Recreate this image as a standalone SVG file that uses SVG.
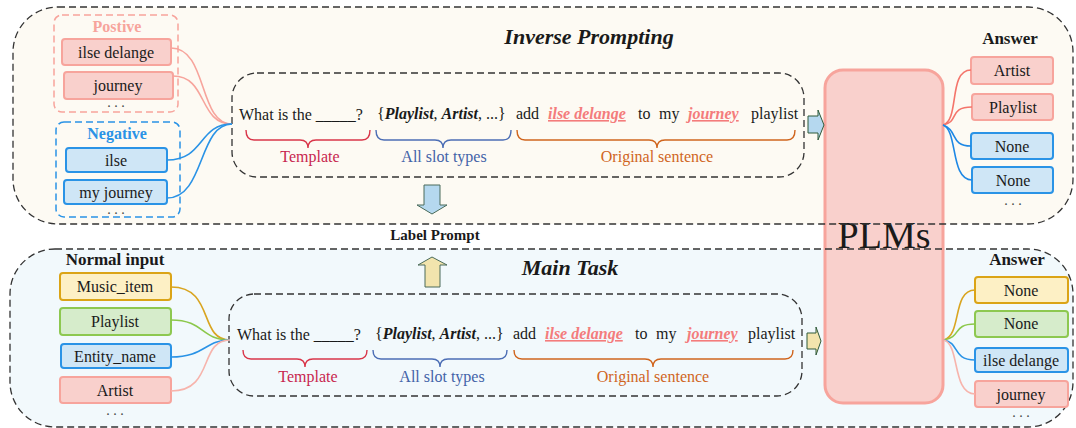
<svg xmlns="http://www.w3.org/2000/svg" width="1076" height="428" viewBox="0 0 1076 428">
<style>
text{font-family:"Liberation Serif","Times New Roman",serif;fill:#1a1a1a}
.t{font-size:16px}
.b{font-weight:bold}
.bi{font-weight:bold;font-style:italic}
.c{text-anchor:middle}
.dash{fill:none;stroke:#333;stroke-width:1.3;stroke-dasharray:7 4}
.pk{fill:#f9d0cc;stroke:#f7a49c;stroke-width:2}
.bl{fill:#cfe6f6;stroke:#2a93e6;stroke-width:2}
.yl{fill:#fdf0c5;stroke:#dba416;stroke-width:2}
.gr{fill:#d6eccb;stroke:#8dc850;stroke-width:2}
.conn path{fill:none;stroke-width:1.6}
.ul{fill:#f47c7c;text-decoration:underline}
.dots{font-size:14px;text-anchor:middle;fill:#444}
</style>

<!-- panels backgrounds -->
<g id="panel-inverse-bg"><rect x="13" y="7" width="1060" height="217" rx="45" fill="#fdfaf3"/></g>
<g id="panel-main-bg"><rect x="10" y="249" width="1063" height="178" rx="45" fill="#f2f9fc"/></g>

<!-- PLMs -->
<g id="plms">
<rect x="825" y="70" width="118" height="333" rx="18" fill="#f9d0cc" stroke="#f7a49c" stroke-width="3"/>
<text x="884" y="248" font-size="38" class="c">PLMs</text>
</g>

<!-- panel borders -->
<g id="panel-inverse">
<rect x="13" y="7" width="1060" height="217" rx="45" class="dash"/>
<text x="589" y="44" font-size="22" class="bi c">Inverse Prompting</text>
</g>
<g id="panel-main">
<rect x="10" y="249" width="1063" height="178" rx="45" class="dash"/>
<text x="570" y="275" font-size="22" class="bi c">Main Task</text>
</g>

<!-- Positive / Negative groups -->
<g id="positive">
<rect x="54" y="15" width="124" height="97" rx="8" fill="none" stroke="#f7a49c" stroke-width="1.5" stroke-dasharray="7 4"/>
<text x="117" y="32" class="t b c" style="fill:#f7a49c">Postive</text>
</g>
<g id="pos-ilse-delange"><rect x="62" y="39" width="109" height="26" rx="3" class="pk"/><text x="116" y="58" class="t c">ilse delange</text></g>
<g id="pos-journey"><rect x="64" y="72" width="109" height="27" rx="3" class="pk"/><text x="118" y="91" class="t c">journey</text></g>
<text x="116" y="107" class="dots">. . .</text>

<g id="negative">
<rect x="56" y="122" width="124" height="95" rx="8" fill="none" stroke="#2a93e6" stroke-width="1.5" stroke-dasharray="7 4"/>
<text x="117" y="139" class="t b c" style="fill:#2a93e6">Negative</text>
</g>
<g id="neg-ilse"><rect x="66" y="148" width="101" height="24" rx="3" class="bl"/><text x="116" y="166" class="t c">ilse</text></g>
<g id="neg-my-journey"><rect x="64" y="180" width="103" height="24" rx="3" class="bl"/><text x="116" y="198" class="t c">my journey</text></g>
<text x="116" y="214" class="dots">. . .</text>

<!-- top prompt box -->
<g id="prompt-top">
<rect x="232" y="73" width="572" height="104" rx="25" class="dash"/>
<text x="239" y="120" class="t">What is the _____?</text>
<text x="377" y="119" class="t">{<tspan class="bi">Playlist</tspan>, <tspan class="bi">Artist</tspan>, ...}</text>
<text x="516" y="119" class="t">add</text>
<text x="548" y="119" class="t bi ul">ilse delange</text>
<text x="638" y="119" class="t">to</text>
<text x="659" y="119" class="t">my</text>
<text x="688" y="119" class="t bi ul">journey</text>
<text x="751" y="119" class="t">playlist</text>
<path d="M246,130 Q246,140 254,140 L300,140 Q308,140 308,148 Q308,140 316,140 L362,140 Q370,140 370,130" fill="none" stroke="#d9364a" stroke-width="1.4"/>
<path d="M376,130 Q376,140 384,140 L435,140 Q443,140 443,148 Q443,140 451,140 L503,140 Q511,140 511,130" fill="none" stroke="#4c6eb5" stroke-width="1.4"/>
<path d="M517,130 Q517,140 525,140 L649,140 Q657,140 657,148 Q657,140 665,140 L787,140 Q795,140 795,130" fill="none" stroke="#d0651e" stroke-width="1.4"/>
<text x="310" y="162" class="t c" style="fill:#c8264f">Template</text>
<text x="444" y="162" class="t c" style="fill:#4363a8">All slot types</text>
<text x="657" y="162" class="t c" style="fill:#d0651e">Original sentence</text>
</g>

<!-- top answers -->
<text x="1010" y="44" font-size="17" class="b c">Answer</text>
<g id="ans-artist"><rect x="971" y="57" width="82" height="27" rx="3" class="pk"/><text x="1012" y="76" class="t c">Artist</text></g>
<g id="ans-playlist"><rect x="972" y="94" width="81" height="26" rx="3" class="pk"/><text x="1013" y="113" class="t c">Playlist</text></g>
<g id="ans-none1"><rect x="971" y="133" width="82" height="26" rx="3" class="bl"/><text x="1012" y="152" class="t c">None</text></g>
<g id="ans-none2"><rect x="972" y="167" width="81" height="26" rx="3" class="bl"/><text x="1013" y="186" class="t c">None</text></g>
<text x="1013" y="205" class="dots">. . .</text>

<!-- arrows / label prompt -->
<g id="arrow-right-top"><polygon points="808,116 818,116 818,110 824,125 818,140 818,133 808,133" fill="#b5d8ef" stroke="#2f5a3a" stroke-width="1"/></g>
<g id="arrow-down"><polygon points="424,185 440,185 440,205 447,205 432,214 417,205 424,205" fill="#b5d8ef" stroke="#4a6b5a" stroke-width="1"/></g>
<g id="label-prompt"><text x="435" y="240" font-size="15" class="b c">Label Prompt</text></g>
<g id="arrow-up"><polygon points="432,257 447,265 440,265 440,287 425,287 425,265 418,265" fill="#f2e4ad" stroke="#4a6b5a" stroke-width="1"/></g>
<g id="arrow-right-bottom"><polygon points="807,333 816,333 816,327 821,341 816,355 816,349 807,349" fill="#f2e4ad" stroke="#2f5a3a" stroke-width="1"/></g>

<!-- normal input -->
<text x="115" y="265" font-size="17" class="b c">Normal input</text>
<g id="in-music-item"><rect x="60" y="273" width="111" height="27" rx="3" class="yl"/><text x="115" y="292" class="t c">Music_item</text></g>
<g id="in-playlist"><rect x="60" y="308" width="111" height="27" rx="3" class="gr"/><text x="115" y="327" class="t c">Playlist</text></g>
<g id="in-entity-name"><rect x="61" y="344" width="110" height="24" rx="3" class="bl"/><text x="115" y="362" class="t c">Entity_name</text></g>
<g id="in-artist"><rect x="60" y="377" width="111" height="26" rx="3" class="pk"/><text x="115" y="396" class="t c">Artist</text></g>
<text x="115" y="415" class="dots">. . .</text>

<!-- bottom prompt box -->
<g id="prompt-bottom">
<rect x="229" y="294" width="573" height="102" rx="25" class="dash"/>
<text x="237" y="340" class="t">What is the _____?</text>
<text x="375" y="339" class="t">{<tspan class="bi">Playlist</tspan>, <tspan class="bi">Artist</tspan>, ...}</text>
<text x="513" y="339" class="t">add</text>
<text x="545" y="339" class="t bi ul">ilse delange</text>
<text x="635" y="339" class="t">to</text>
<text x="656" y="339" class="t">my</text>
<text x="687" y="339" class="t bi ul">journey</text>
<text x="748" y="339" class="t">playlist</text>
<path d="M243,350 Q243,359 251,359 L297,359 Q305,359 305,367 Q305,359 313,359 L359,359 Q367,359 367,350" fill="none" stroke="#d9364a" stroke-width="1.4"/>
<path d="M373,350 Q373,359 381,359 L432,359 Q440,359 440,367 Q440,359 448,359 L499,359 Q507,359 507,350" fill="none" stroke="#4c6eb5" stroke-width="1.4"/>
<path d="M514,350 Q514,359 522,359 L645,359 Q653,359 653,367 Q653,359 661,359 L785,359 Q793,359 793,350" fill="none" stroke="#d0651e" stroke-width="1.4"/>
<text x="308" y="382" class="t c" style="fill:#c8264f">Template</text>
<text x="442" y="382" class="t c" style="fill:#4363a8">All slot types</text>
<text x="653" y="382" class="t c" style="fill:#d0651e">Original sentence</text>
</g>

<!-- bottom answers -->
<text x="1017" y="265" font-size="17" class="b c">Answer</text>
<g id="out-none1"><rect x="975" y="277" width="93" height="26" rx="3" class="yl"/><text x="1021" y="296" class="t c">None</text></g>
<g id="out-none2"><rect x="975" y="311" width="93" height="26" rx="3" class="gr"/><text x="1021" y="329" class="t c">None</text></g>
<g id="out-ilse-delange"><rect x="975" y="348" width="93" height="24" rx="3" class="bl"/><text x="1021" y="366" class="t c">ilse delange</text></g>
<g id="out-journey"><rect x="975" y="381" width="93" height="26" rx="3" class="pk"/><text x="1021" y="400" class="t c">journey</text></g>
<text x="1021" y="417" class="dots">. . .</text>

<!-- connectors -->
<g id="connectors" class="conn">
<path d="M171,48 C208,48 198,124 232,124" stroke="#f7a49c"/>
<path d="M173,76 C208,76 198,124 232,124" stroke="#f7a49c"/>
<path d="M167,160 C205,160 198,124 232,124" stroke="#2a93e6"/>
<path d="M167,198 C205,198 198,124 232,124" stroke="#2a93e6"/>
<path d="M943,125 C960,120 948,70 971,70" stroke="#f4756b"/>
<path d="M943,125 C960,122 948,107 972,107" stroke="#f4756b"/>
<path d="M943,125 C958,130 950,146 971,146" stroke="#1e88e5"/>
<path d="M943,125 C958,130 950,180 972,180" stroke="#1e88e5"/>
<path d="M171,287 C215,287 198,340 230,340" stroke="#d9a520"/>
<path d="M171,320 C205,320 200,340 230,340" stroke="#8cc84b"/>
<path d="M171,357 C205,357 205,340 230,340" stroke="#2a93e6"/>
<path d="M171,391 C215,391 198,340 230,340" stroke="#f7b4ac"/>
<path d="M944,340 C962,335 952,290 975,290" stroke="#d9a520"/>
<path d="M944,340 C962,337 952,324 975,324" stroke="#8cc84b"/>
<path d="M944,340 C960,343 952,360 975,360" stroke="#2a93e6"/>
<path d="M944,340 C960,345 952,394 975,394" stroke="#f7b4ac"/>
</g>
</svg>
